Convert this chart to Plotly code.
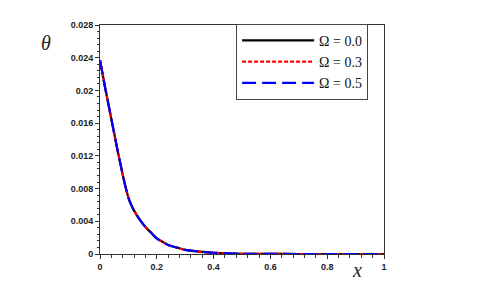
import plotly.graph_objects as go

x_vals = [0, 0.02, 0.04, 0.06, 0.08, 0.09, 0.10, 0.11, 0.12, 0.14, 0.16, 0.18, 0.20, 0.22, 0.24,
          0.27, 0.30, 0.35, 0.40, 0.45, 0.50, 0.60, 0.70, 0.80, 0.90, 1.00]
theta_0_0 = [0.0237, 0.0200, 0.0165, 0.0130, 0.0097, 0.0082, 0.0069, 0.0060, 0.0053, 0.0042, 0.0033,
             0.0026, 0.0019, 0.0015, 0.0011, 0.0008, 0.0005, 0.0003, 0.00015, 0.00007,
             0.00003, 0.00001, 0.0, 0.0, 0.0, 0.0]
theta_0_3 = list(theta_0_0)
theta_0_5 = list(theta_0_0)

series_names = ["Ω = 0.0", "Ω = 0.3", "Ω = 0.5"]
y_ticks = [0, 0.004, 0.008, 0.012, 0.016, 0.02, 0.024, 0.028]
y_tick_labels = ["0", "0.004", "0.008", "0.012", "0.016", "0.02", "0.024", "0.028"]
x_ticks = [0, 0.2, 0.4, 0.6, 0.8, 1]
x_tick_labels = ["0", "0.2", "0.4", "0.6", "0.8", "1"]

fig = go.Figure()
styles = [("black", "solid"), ("red", "4px,2px"), ("blue", "14px,6px")]
for name, ys, (col, dash) in zip(series_names, [theta_0_0, theta_0_3, theta_0_5], styles):
    fig.add_trace(go.Scatter(x=x_vals, y=ys, mode="lines", name=name,
                             line=dict(color=col, width=2.2, dash=dash, shape="spline", smoothing=1.0)))

tickfont = dict(family="Liberation Sans, Arial", size=9, color="#222")
fig.update_layout(
    width=477, height=298,
    margin=dict(l=92, r=101, t=12, b=52),
    paper_bgcolor="white", plot_bgcolor="white",
    showlegend=True,
    legend=dict(x=0.944, y=1.005, xanchor="right", yanchor="top",
                bordercolor="#444", borderwidth=1, bgcolor="white",
                font=dict(family="Liberation Serif, Times New Roman", size=14, color="#111"),
                tracegroupgap=0, itemwidth=72),
    xaxis=dict(range=[0, 1], tickvals=x_ticks, ticktext=["<b>%s</b>" % t for t in x_tick_labels],
               ticks="outside", ticklen=4, tickcolor="#333", tickwidth=1,
               showline=True, linecolor="#333", linewidth=1, mirror=True,
               showgrid=False, zeroline=False, tickfont=tickfont,
               minor=dict(dtick=0.04, ticks="outside", ticklen=2.5, tickcolor="#333", showgrid=False)),
    yaxis=dict(range=[0, 0.028], tickvals=y_ticks, ticktext=["<b>%s</b>" % t for t in y_tick_labels],
               ticks="outside", ticklen=4, tickcolor="#333", tickwidth=1,
               showline=True, linecolor="#333", linewidth=1, mirror=True,
               showgrid=False, zeroline=False, tickfont=tickfont,
               minor=dict(dtick=0.0008, tick0=0, ticks="outside", ticklen=2.5, tickcolor="#333", showgrid=False)),
    annotations=[
        dict(text="<i>θ</i>", x=-0.19, y=0.923, xref="paper", yref="paper", showarrow=False,
             font=dict(family="Liberation Serif, Times New Roman", size=20, color="#222"),
             xanchor="center", yanchor="middle"),
        dict(text="<i>x</i>", x=0.905, y=-0.068, xref="paper", yref="paper", showarrow=False,
             font=dict(family="Liberation Serif, Times New Roman", size=20, color="#222"),
             xanchor="center", yanchor="middle"),
    ],
)
fig.write_html("out.html")
